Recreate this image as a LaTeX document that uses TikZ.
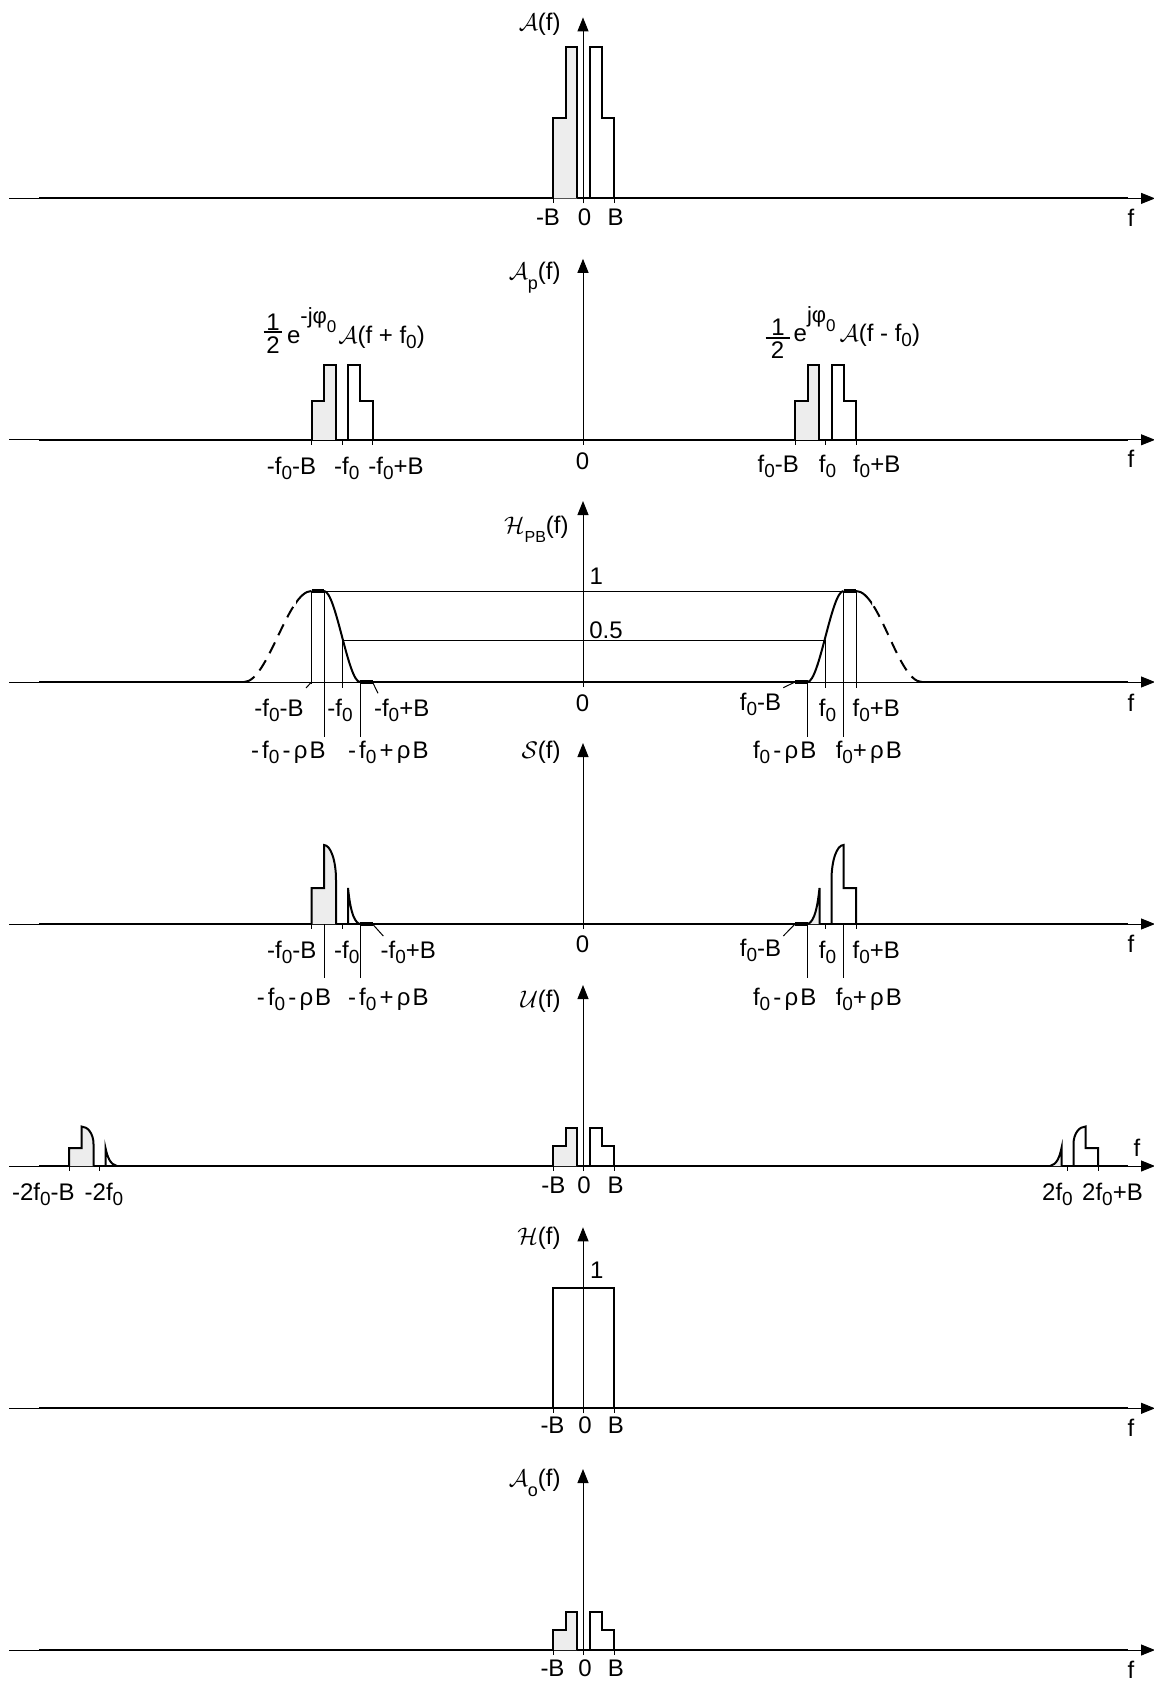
\documentclass[tikz,border=0pt]{standalone}
\usepackage{amsmath}
\usepackage{fontspec}
\setmainfont{Liberation Sans}
\usetikzlibrary{arrows.meta}
\newcommand{\zs}{\raisebox{-2.5pt}{\fontsize{9.5}{10}\selectfont 0}}
\newcommand{\lsub}[1]{\raisebox{-5pt}{\fontsize{9}{10}\selectfont #1}}
\newcommand{\gp}{\kern1.6pt}
\newcommand{\myaxes}[1]{%
  \draw[ax,-{Triangle[length=7pt,width=5.5pt]}] (9,#1) -- (1155,#1);
  \draw[ax,-{Triangle[length=7pt,width=5.5pt]}] (583,#1+5) -- (583,#1-181);}
\newcommand{\tick}[2]{\draw[ax] (#1,#2) -- (#1,#2+5);}
\newcommand{\Agroup}[4]{%
  \filldraw[sig,shade] (#1-30.5,#2) -- (#1-30.5,#2-#3) -- (#1-18,#2-#3) -- (#1-18,#2-#4) -- (#1-6.3,#2-#4) -- (#1-6.3,#2);
  \draw[sig] (#1+6.3,#2) -- (#1+6.3,#2-#4) -- (#1+18,#2-#4) -- (#1+18,#2-#3) -- (#1+30.5,#2-#3) -- (#1+30.5,#2);}
\newcommand{\SgroupL}[3]{%
  \begin{scope}[shift={(#1,#2)},yscale=#3]
    \filldraw[sig,shade] (-30.5,0) -- (-30.5,-36) -- (-18,-36) -- (-18,-79) .. controls (-11.5,-79) and (-6,-64) .. (-6,-44) -- (-6,0);
    \draw[sig] (6,0) -- (6,-36) .. controls (7.8,-19) and (10.5,-3) .. (17.5,0);
  \end{scope}}
\newcommand{\SgroupR}[3]{%
  \begin{scope}[shift={(#1,#2)},yscale=#3]
    \filldraw[sig,shade] (-17.5,0) .. controls (-10.5,-3) and (-7.8,-19) .. (-6,-36) -- (-6,0);
    \draw[sig] (6,0) -- (6,-44) .. controls (6,-64) and (11.5,-79) .. (18,-79) -- (18,-36) -- (30.5,-36) -- (30.5,0);
  \end{scope}}
\newcommand{\expo}[1]{\raisebox{9.7pt}{\fontsize{11}{11}\selectfont #1\raisebox{-4.5pt}{\fontsize{8.5}{8.5}\selectfont 0}}}
\begin{document}
\begin{tikzpicture}[x=0.5pt,y=-0.5pt,
  ax/.style={line width=0.5pt},
  sig/.style={line width=1pt,line join=miter},
  bar/.style={line width=1.7pt},
  fbar/.style={line width=0.9pt},
  shade/.style={fill=gray!14},
  dsh/.style={line width=1pt,dash pattern=on 6pt off 4pt},
  every node/.style={inner sep=0pt},
  lab/.style={font=\fontsize{12}{14}\selectfont,anchor=base},
  ttl/.style={font=\fontsize{12}{14}\selectfont,anchor=base east}]
\useasboundingbox (0,0) rectangle (1153,1681);

% ---------------- Panel 1 ----------------
\myaxes{198.4}
\draw[sig] (39,198.4) -- (1128,198.4);
\Agroup{583.5}{198.4}{80.4}{151.4}
\tick{553}{198.4}\tick{614}{198.4}
\node[ttl] (t1) at (561,31) {$\mathcal{A}$(f)};
\node[lab] (p1a) at (548,225.4) {-B};
\node[lab] (p1b) at (584.5,225.4) {0};
\node[lab] (p1c) at (615.5,225.4) {B};
\node[lab] (p1f) at (1131,226) {f};

% ---------------- Panel 2 ----------------
\myaxes{439.8}
\draw[sig] (39,439.8) -- (1128,439.8);
\Agroup{342}{439.8}{39}{75}
\Agroup{825.5}{439.8}{39}{75}
\tick{311.5}{439.8}\tick{342}{439.8}\tick{372.5}{439.8}
\tick{795}{439.8}\tick{825.5}{439.8}\tick{856}{439.8}
\node[ttl] (t2) at (561,279) {$\mathcal{A}$\lsub{p}(f)};
% left formula
\node[lab] (fln) at (273,330) {1};
\node[lab] (fld) at (273,353.3) {2};
\coordinate (flb1) at (263.5,332);
\coordinate (flb2) at (282,332);
\draw[fbar] (flb1) -- (flb2);
\node[lab,anchor=base west] (fl) at (286.7,343.3) {e\expo{-jφ}\kern1pt$\mathcal{A}$(f + f\zs)};
% right formula
\node[lab] (frn) at (778,335) {1};
\node[lab] (frd) at (777.5,358.3) {2};
\coordinate (frb1) at (765.5,338.3);
\coordinate (frb2) at (789.5,338.3);
\draw[fbar] (frb1) -- (frb2);
\node[lab,anchor=base west] (fr) at (793.3,341.7) {e\expo{jφ}\kern2pt$\mathcal{A}$(f - f\zs)};
\node[lab] (p2a) at (291.5,474) {-f\zs-B};
\node[lab] (p2b) at (346.7,474) {-f\zs};
\node[lab] (p2c) at (396,474) {-f\zs+B};
\node[lab] (p2d) at (582.5,469.7) {0};
\node[lab] (p2e) at (778.3,472.5) {f\zs-B};
\node[lab] (p2g) at (827.5,472.5) {f\zs};
\node[lab] (p2h) at (876.7,472.5) {f\zs+B};
\node[lab] (p2f) at (1131,467.5) {f};

% ---------------- Panel 3 ----------------
\myaxes{682}
\draw[sig] (39,682) -- (244,682);
\draw[sig] (360,682) -- (807.5,682);
\draw[sig] (922,682) -- (1128,682);
\begin{scope}
  \clip (296,560) rectangle (330,700);
  \draw[sig] (244,682) .. controls (268,682) and (287.5,591) .. (311.5,591);
\end{scope}
\begin{scope}
  \clip (200,560) rectangle (296,700);
  \draw[dsh] (244,682) .. controls (268,682) and (287.5,591) .. (311.5,591);
\end{scope}
\begin{scope}
  \clip (850,560) rectangle (872,700);
  \draw[sig] (856,591) .. controls (880,591) and (898,682) .. (922,682);
\end{scope}
\begin{scope}
  \clip (872,560) rectangle (960,700);
  \draw[dsh] (922,682) .. controls (898,682) and (880,591) .. (856,591);
\end{scope}
\draw[sig] (324,591) .. controls (336,591) and (348,682) .. (360,682);
\draw[sig] (807.5,682) .. controls (819.5,682) and (831.5,591) .. (843.5,591);
\draw[bar] (311.5,591) -- (324,591);
\draw[bar] (843.5,591) -- (856,591);
\draw[bar] (360,682) -- (372.5,682);
\draw[bar] (795,682) -- (807.5,682);
\draw[ax] (324,591) -- (843.5,591);
\draw[ax] (342,640) -- (825.5,640);
\draw[ax] (311.5,591) -- (311.5,684);
\draw[ax] (324,591) -- (324,736.7);
\draw[ax] (342,640) -- (342,688);
\draw[ax] (360,682) -- (360,736.7);
\draw[ax] (807.5,682) -- (807.5,736.7);
\draw[ax] (825.5,640) -- (825.5,688);
\draw[ax] (843.5,591) -- (843.5,736.7);
\draw[ax] (856,591) -- (856,688);
\draw[ax] (311.5,682) -- (306,688);
\draw[ax] (372.5,682) -- (378,693.3);
\draw[ax] (795,682) -- (783.3,687.7);
\node[ttl] (t3) at (569,533) {$\mathcal{H}$\raisebox{-4.5pt}{\fontsize{8}{9}\selectfont PB}(f)};
\node[lab] (p3one) at (596.4,584.5) {1};
\node[lab] (p3half) at (606,638) {0.5};
\node[lab] (p3z) at (582.5,711) {0};
\node[lab] (p3a) at (279,716.7) {-f\zs-B};
\node[lab] (p3b) at (340,716.7) {-f\zs};
\node[lab] (p3c) at (401.7,716.7) {-f\zs+B};
\node[lab] (p3d) at (288.3,758.3) {-\gp f\zs\gp-\gp ρ\kern1pt B};
\node[lab] (p3e) at (388.3,758.3) {-\gp f\zs\gp+\gp ρ\kern1pt B};
\node[lab] (p3g) at (760.5,710) {f\zs-B};
\node[lab] (p3h) at (827.5,716.7) {f\zs};
\node[lab] (p3i) at (876.3,716.7) {f\zs+B};
\node[lab] (p3j) at (784.7,758.3) {f\zs\gp-\gp ρ\kern1pt B};
\node[lab] (p3k) at (868.8,758.3) {f\zs+\gp ρ\kern1pt B};
\node[lab] (p3f) at (1131,711) {f};

% ---------------- Panel 4 ----------------
\myaxes{924}
\draw[sig] (39,924) -- (1128,924);
\SgroupL{342}{924}{1}
\SgroupR{825.5}{924}{1}
\draw[bar] (360,924) -- (372.5,924);
\draw[bar] (795,924) -- (807.5,924);
\draw[ax] (324,924) -- (324,978.3);
\draw[ax] (360,924) -- (360,978.3);
\draw[ax] (807.5,924) -- (807.5,978.3);
\draw[ax] (843.5,924) -- (843.5,978.3);
\tick{311.5}{924}\tick{342}{924}\tick{825.5}{924}\tick{856}{924}
\draw[ax] (372.5,924) -- (383.3,936);
\draw[ax] (795,924) -- (783.3,936);
\node[ttl] (t4) at (561,758) {$\mathcal{S}$(f)};
\node[lab] (p4z) at (582.5,952.5) {0};
\node[lab] (p4a) at (291.7,958.3) {-f\zs-B};
\node[lab] (p4b) at (346.7,958.3) {-f\zs};
\node[lab] (p4c) at (408.3,958.3) {-f\zs+B};
\node[lab] (p4d) at (294,1005) {-\gp f\zs\gp-\gp ρ\kern1pt B};
\node[lab] (p4e) at (388.3,1005) {-\gp f\zs\gp+\gp ρ\kern1pt B};
\node[lab] (p4g) at (760.5,956.7) {f\zs-B};
\node[lab] (p4h) at (827.5,958.3) {f\zs};
\node[lab] (p4i) at (876.3,958.3) {f\zs+B};
\node[lab] (p4j) at (784.7,1005) {f\zs\gp-\gp ρ\kern1pt B};
\node[lab] (p4k) at (868.8,1005) {f\zs+\gp ρ\kern1pt B};
\node[lab] (p4f) at (1131,952.5) {f};

% ---------------- Panel 5 ----------------
\myaxes{1166}
\draw[sig] (39,1166) -- (1128,1166);
\SgroupL{99.5}{1166}{0.5}
\SgroupR{1067.5}{1166}{0.5}
\Agroup{583.5}{1166}{20}{38}
\tick{69}{1166}\tick{99.5}{1166}\tick{553}{1166}\tick{614}{1166}\tick{1067.5}{1166}\tick{1098}{1166}
\node[ttl] (t5) at (561,1007) {$\mathcal{U}$(f)};
\node[lab] (p5a) at (43.3,1200) {-2f\zs-B};
\node[lab] (p5b) at (104,1200) {-2f\zs};
\node[lab] (p5c) at (553.3,1193.3) {-B};
\node[lab] (p5d) at (584,1193.3) {0};
\node[lab] (p5e) at (615.5,1193.3) {B};
\node[lab] (p5g) at (1057.5,1200) {2f\zs};
\node[lab] (p5h) at (1112.5,1200) {2f\zs+B};
\node[lab] (p5f) at (1137,1156.7) {f};

% ---------------- Panel 6 ----------------
\myaxes{1408.3}
\draw[sig] (39,1408.3) -- (1128,1408.3);
\draw[sig] (553,1408.3) -- (553,1287.7) -- (614,1287.7) -- (614,1408.3);
\tick{553}{1408.3}\tick{614}{1408.3}
\node[ttl] (t6) at (561,1244) {$\mathcal{H}$(f)};
\node[lab] (p6one) at (596.7,1278.3) {1};
\node[lab] (p6a) at (552.5,1433.3) {-B};
\node[lab] (p6b) at (585,1433.3) {0};
\node[lab] (p6c) at (615.8,1433.3) {B};
\node[lab] (p6f) at (1131,1436) {f};

% ---------------- Panel 7 ----------------
\myaxes{1650}
\draw[sig] (39,1650) -- (1128,1650);
\Agroup{583.5}{1650}{20}{38}
\tick{553}{1650}\tick{614}{1650}
\node[ttl] (t7) at (561,1486) {$\mathcal{A}$\lsub{o}(f)};
\node[lab] (p7a) at (552.5,1676.7) {-B};
\node[lab] (p7b) at (585,1676.7) {0};
\node[lab] (p7c) at (615.8,1676.7) {B};
\node[lab] (p7f) at (1131,1678) {f};
\end{tikzpicture}
\end{document}
